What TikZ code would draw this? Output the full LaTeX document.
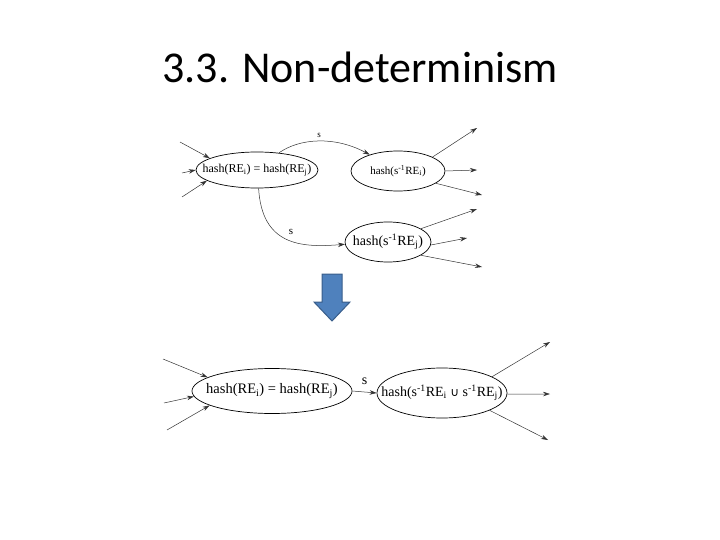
\documentclass[tikz,border=0pt]{standalone}
\usepackage{fontspec}
\setmainfont{Liberation Serif}
\newfontfamily\titlefont{Carlito}
\newfontfamily\symfont{DejaVu Sans}
\usetikzlibrary{shapes.geometric,arrows.meta}
\newcommand{\zbox}[1]{\makebox[0pt]{#1}}
\begin{document}
\begin{tikzpicture}[x=1pt,y=-1pt,
  state/.style={ellipse,draw=black,line width=0.7pt,inner sep=0pt},
  edge/.style={draw=black!80,line width=0.5pt,-{Stealth[length=7pt,width=4.5pt]}},
  lbl/.style={inner sep=0pt,font=\fontsize{9}{10}\selectfont}]
\useasboundingbox (0,0) rectangle (720,540);
\node[font=\titlefont\fontsize{44}{50}\selectfont,anchor=base] (title) at (360,83) {3.3. Non-determinism};

% top diagram
\node[state,minimum width=122pt,minimum height=36pt,font=\fontsize{12}{13}\selectfont] (A) at (257,170) {\zbox{hash(RE\textsubscript{i}) = hash(RE\textsubscript{j})}};
\node[state,minimum width=94pt,minimum height=40pt,font=\fontsize{11}{12}\selectfont] (B) at (398,171) {\zbox{hash(s\textsuperscript{-1}RE\textsubscript{i})}};
\node[state,minimum width=86pt,minimum height=40pt,font=\fontsize{14}{15}\selectfont] (C) at (388,242) {\zbox{hash(s\textsuperscript{-1}RE\textsubscript{j})}};

\coordinate (a1) at (180,142);
\coordinate (a2) at (182,173);
\coordinate (a3) at (182,197);
\draw[edge] (a1) -- (A.166);
\draw[edge] (a2) -- (A.180);
\draw[edge] (a3) -- (A.192);

\draw[edge] (A.38) .. controls (300,138) and (335,136) .. (B.150)
  node[lbl,pos=0.5,above=3pt] (s1) {s};
\draw[edge] (A.275) .. controls (262,245) and (300,248) .. (C.183)
  node[lbl,pos=0.55,above=6pt,font=\fontsize{11}{12}\selectfont] (s2) {s};

\coordinate (b1) at (477,128);
\coordinate (b2) at (477,170);
\coordinate (b3) at (482,195);
\draw[edge] (B.22) -- (b1);
\draw[edge] (B.0) -- (b2);
\draw[edge] (B.-18) -- (b3);

\coordinate (c1) at (477,209);
\coordinate (c2) at (467,238);
\coordinate (c3) at (482,267);
\draw[edge] (C.22) -- (c1);
\draw[edge] (C.-4) -- (c2);
\draw[edge] (C.-22) -- (c3);

% big arrow
\draw[fill={rgb,255:red,79;green,129;blue,189},draw={rgb,255:red,56;green,93;blue,138},line width=1pt]
  (322,274) -- (342,274) -- (342,302) -- (350,302) -- (332,321) -- (314,302) -- (322,302) -- cycle;

% bottom diagram
\node[state,minimum width=160pt,minimum height=45pt,font=\fontsize{14.5}{16}\selectfont] (D) at (272,391) {\zbox{hash(RE\textsubscript{i}) = hash(RE\textsubscript{j})}};
\node[state,minimum width=130pt,minimum height=50pt,font=\fontsize{14}{16}\selectfont] (E) at (442,393) {\zbox{hash(s\textsuperscript{-1}RE\textsubscript{i} {\symfont\fontsize{12}{13}\selectfont ∪} s\textsuperscript{-1}RE\textsubscript{j})}};

\coordinate (d1) at (163,359);
\coordinate (d2) at (164,403);
\coordinate (d3) at (167,430);
\draw[edge] (d1) -- (D.168);
\draw[edge] (d2) -- (D.184);
\draw[edge] (d3) -- (D.193);

\draw[edge] (D.east) -- (E.west) node[lbl,midway,above=7pt,font=\fontsize{14}{15}\selectfont] (s3) {s};

\coordinate (e1) at (550,342);
\coordinate (e2) at (550,394);
\coordinate (e3) at (548,440);
\draw[edge] (E.18) -- (e1);
\draw[edge] (E.-1) -- (e2);
\draw[edge] (E.-20) -- (e3);
\end{tikzpicture}
\end{document}
